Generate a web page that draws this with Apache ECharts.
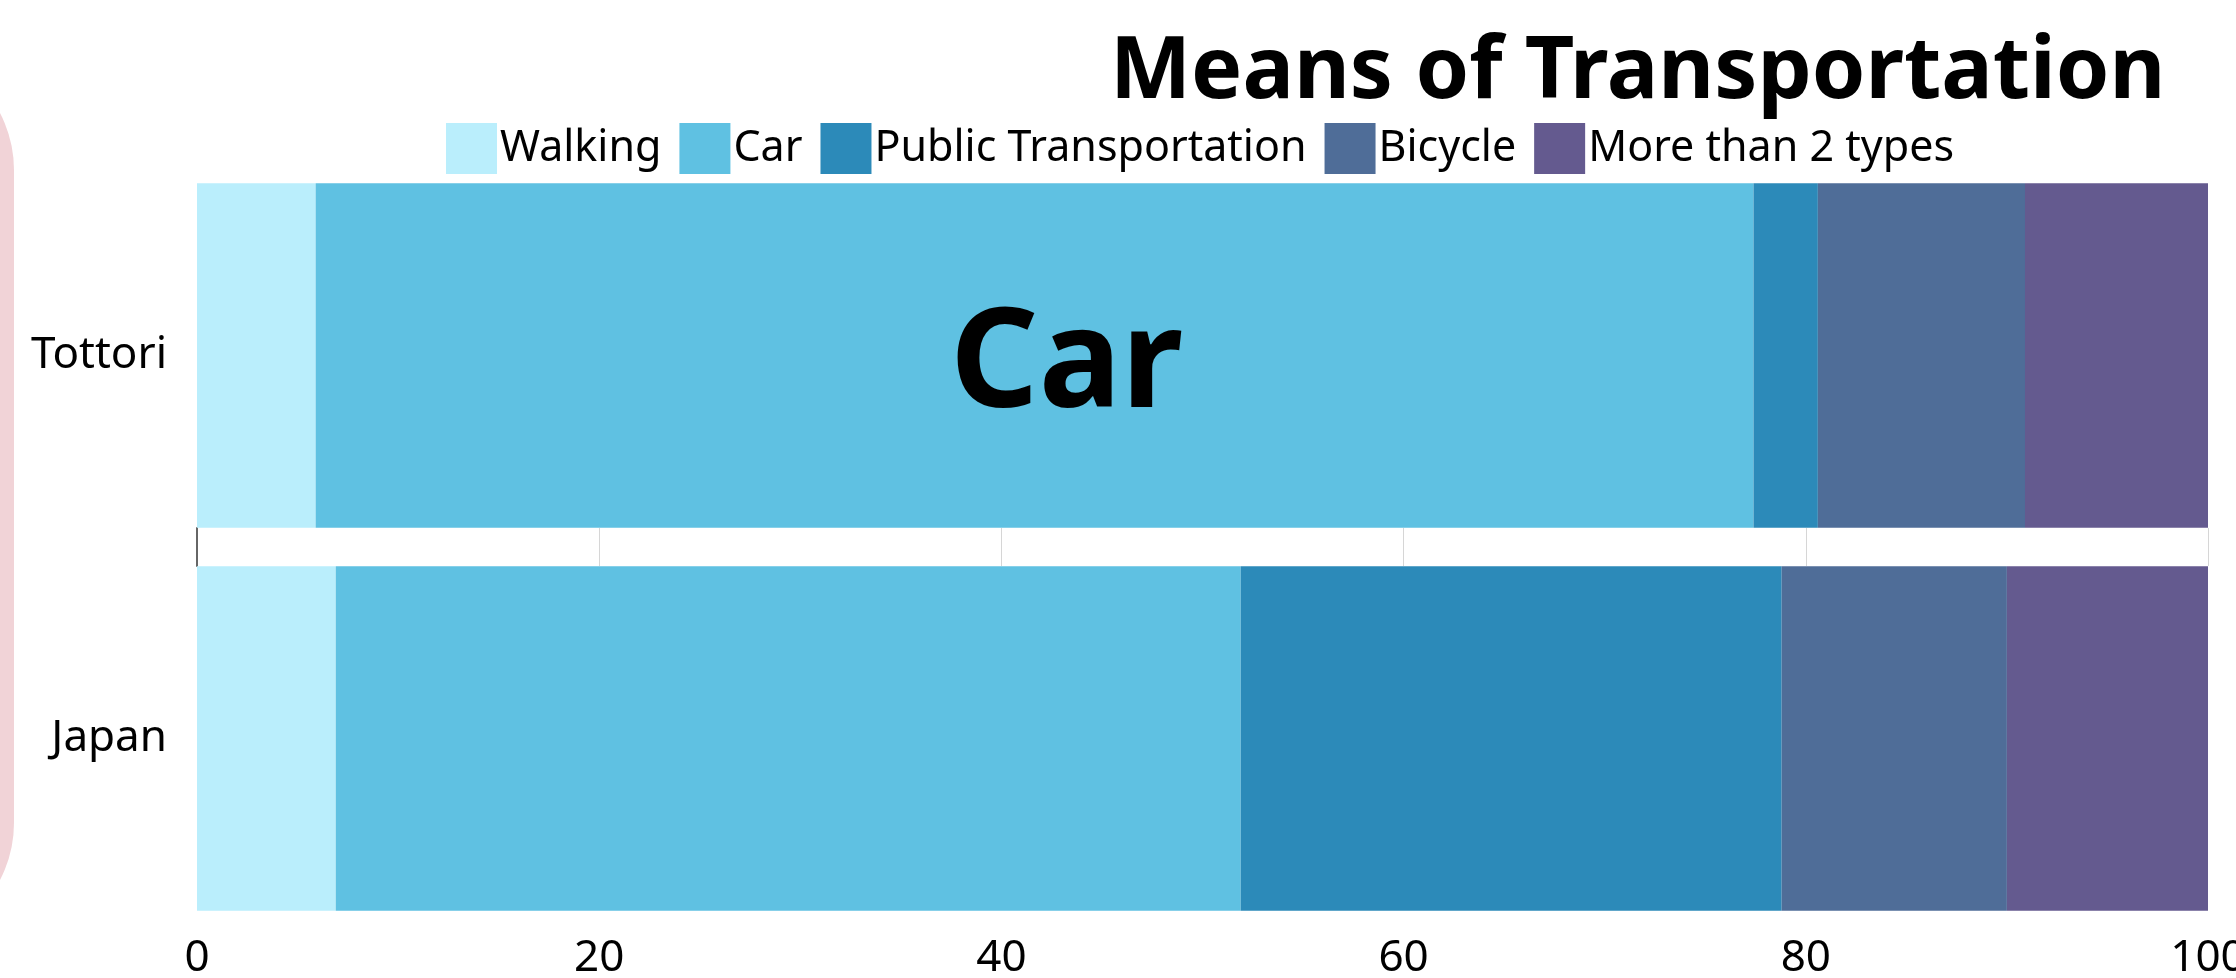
<!DOCTYPE html>
<html>
<head>
<meta charset="utf-8">
<script src="https://cdn.jsdelivr.net/npm/echarts@6/dist/echarts.min.js"></script>
<style>
  html, body { margin: 0; padding: 0; background: #fff; }
  #chart { width: 2236px; height: 978px; }
</style>
</head>
<body>
<div id="chart"></div>
<script>
// regions, top to bottom
const regions = ['Tottori', 'Japan']

// share of commuters (%) per means of transportation
const walking = [5.9, 6.9]
const car = [71.5, 45.0]
const publicTransport = [3.2, 26.9]
const bicycle = [10.3, 11.2]
const moreThanTwo = [9.1, 10.0]

const seriesNames = ['Walking', 'Car', 'Public Transportation', 'Bicycle', 'More than 2 types']
const colors = ['#baeefc', '#5fc1e2', '#2c8ab9', '#4f6d98', '#645a8f']

const chart = echarts.init(document.getElementById('chart'))

const font = '"Noto Sans", sans-serif'

function makeSeries(name, values, i) {
  return {
    name,
    type: 'bar',
    stack: 'total',
    barWidth: '90%',
    itemStyle: { color: colors[i] },
    data: values
  }
}

const series = [walking, car, publicTransport, bicycle, moreThanTwo]
  .map((v, i) => makeSeries(seriesNames[i], v, i))

// big "Car" caption only on Tottori's car segment
series[1].data = car.map((v, i) => i === 0 ? {
  value: v,
  label: {
    show: true,
    position: 'inside',
    formatter: 'Car',
    offset: [32, 12],
    color: '#000',
    fontFamily: font,
    fontWeight: 'bold',
    fontSize: 138
  }
} : v)

const plotLeft = 197
const plotRight = 28

chart.setOption({
  animation: false,
  color: colors,
  title: {
    text: 'Means of Transportation',
    left: 1110,
    top: 30,
    padding: 0,
    textStyle: { fontFamily: font, fontWeight: 'bold', fontSize: 86, color: '#000' }
  },
  legend: {
    left: 446,
    top: 123,
    padding: 0,
    itemWidth: 51,
    itemHeight: 51,
    itemGap: 18,
    icon: 'rect',
    textStyle: { fontFamily: font, fontSize: 43, color: '#000', padding: [0, 0, 0, -2] }
  },
  grid: [
    { left: plotLeft, right: plotRight, top: 164, bottom: 48, outerBoundsMode: 'none' },
    // thin strip between the two bars, where the grid lines show through
    { left: plotLeft, right: plotRight, top: 528, bottom: 412, outerBoundsMode: 'none' }
  ],
  xAxis: [{
    type: 'value',
    min: 0,
    max: 100,
    interval: 20,
    axisLine: { show: false },
    axisTick: { show: false },
    axisLabel: { fontFamily: font, fontSize: 44, color: '#000', margin: 6 },
    splitLine: { show: false }
  }, {
    type: 'value',
    gridIndex: 1,
    min: 0,
    max: 100,
    interval: 20,
    axisLine: { show: false },
    axisTick: { show: false },
    axisLabel: { show: false },
    splitLine: { lineStyle: { color: '#d6d6d6', width: 1 } }
  }],
  yAxis: [{
    type: 'category',
    inverse: true,
    data: regions,
    axisLine: { show: false },
    axisTick: { show: false },
    axisLabel: { fontFamily: font, fontSize: 44, color: '#000', margin: 30 }
  }, {
    type: 'category',
    gridIndex: 1,
    data: [''],
    axisLine: { lineStyle: { color: '#666', width: 2 } },
    axisTick: { show: false },
    axisLabel: { show: false }
  }],
  graphic: [{
    type: 'rect',
    shape: { x: -300, y: 47, width: 314, height: 899, r: 123 },
    style: { fill: '#f1d3d7' },
    z: -1
  }],
  series
})
</script>
</body>
</html>
